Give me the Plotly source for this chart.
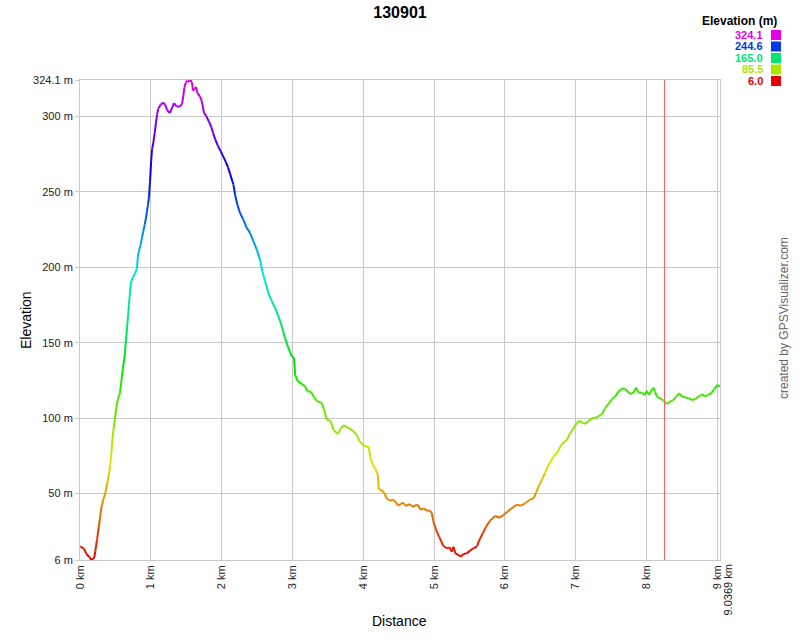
import plotly.graph_objects as go
import colorsys

# ---------------- data ----------------
distance_km = [
    0.00, 0.056, 0.09, 0.137, 0.16, 0.20, 0.216, 0.24, 0.264, 0.282, 0.301, 0.325, 0.358, 0.386, 0.41,
    0.428, 0.443, 0.457, 0.476, 0.494, 0.513, 0.537, 0.565, 0.584, 0.603, 0.621, 0.636, 0.65, 0.664,
    0.678, 0.692, 0.706, 0.72, 0.749, 0.781, 0.805, 0.815, 0.833, 0.857, 0.876, 0.894, 0.914, 0.932,
    0.946, 0.96, 0.975, 0.989, 1.003, 1.017, 1.035, 1.055, 1.073, 1.088, 1.106, 1.14, 1.177, 1.205,
    1.233, 1.271, 1.299, 1.328, 1.365, 1.408, 1.441, 1.459, 1.473, 1.493, 1.516, 1.54, 1.563, 1.582,
    1.596, 1.62, 1.638, 1.657, 1.69, 1.713, 1.733, 1.751, 1.784, 1.818, 1.855, 1.879, 1.911, 1.949,
    1.987, 2.02, 2.058, 2.09, 2.123, 2.151,
    2.166, 2.189, 2.222, 2.26, 2.307, 2.354, 2.401, 2.448, 2.496, 2.542, 2.575, 2.613, 2.66, 2.708,
    2.754, 2.801, 2.849, 2.895, 2.942, 2.99, 3.023, 3.037, 3.075, 3.131, 3.178, 3.211, 3.263, 3.305,
    3.352, 3.414, 3.446, 3.484, 3.54, 3.578, 3.64, 3.686, 3.729, 3.79, 3.852, 3.908, 3.946, 4.002,
    4.077, 4.096, 4.134, 4.176, 4.205, 4.219, 4.251, 4.298, 4.332,
    4.379, 4.425, 4.496, 4.558, 4.605, 4.651, 4.699, 4.764, 4.812, 4.849, 4.897, 4.944, 4.967, 4.99,
    5.028, 5.075, 5.131, 5.179, 5.216, 5.25, 5.273, 5.301, 5.343, 5.377, 5.414, 5.462, 5.508, 5.555,
    5.603, 5.64, 5.688, 5.734, 5.791, 5.862, 5.923, 5.979, 6.035, 6.097, 6.168, 6.225, 6.285, 6.346,
    6.403, 6.441, 6.473, 6.521, 6.568, 6.615,
    6.685, 6.742, 6.78, 6.818, 6.874, 6.921, 6.968, 7.016, 7.053, 7.095, 7.133, 7.18, 7.228, 7.298,
    7.369, 7.415, 7.462, 7.51, 7.556, 7.603, 7.641, 7.684, 7.722, 7.768, 7.815, 7.853, 7.886, 7.934,
    7.971, 8.004, 8.032, 8.065, 8.098, 8.121, 8.145, 8.192, 8.239, 8.287, 8.333, 8.38, 8.418, 8.465,
    8.499, 8.545, 8.592, 8.64, 8.686, 8.733, 8.795, 8.814, 8.875, 8.922, 8.955, 9.002, 9.0369,
]
elevation_m = [
    15.1, 13.5, 10.0, 7.8, 6.0, 7.3, 11.7, 19.5, 27.2, 33.8, 40.5, 45.3, 50.4, 57.0, 63.7,
    69.2, 76.9, 85.7, 93.5, 100.1, 106.8, 112.9, 116.7, 124.5, 132.2, 137.8, 144.4, 152.0, 159.8,
    167.5, 175.2, 184.1, 190.3, 193.4, 196.3, 199.6, 206.2, 211.0, 215.0, 219.9, 223.9, 228.3, 232.7,
    237.2, 241.5, 247.1, 257.0, 269.2, 278.0, 282.4, 289.1, 295.7, 301.2, 305.2, 307.8, 309.2, 307.4,
    303.9, 302.3, 305.6, 308.7, 306.5, 306.5, 308.3, 313.4, 318.9, 322.2, 323.7, 322.9, 324.1, 322.2,
    317.1, 318.4, 319.4, 315.6, 313.4, 311.1, 306.8, 302.3, 300.1, 296.8, 292.8, 289.1, 284.6, 280.2,
    276.9, 273.6, 269.8, 266.3, 261.4, 257.0,
    254.8, 248.2, 241.5, 236.0, 231.6, 226.1, 222.8, 217.3, 211.7, 205.1, 197.4, 190.8, 183.0, 177.5,
    173.1, 167.6, 160.9, 153.2, 146.5, 141.0, 139.9, 128.8, 124.5, 122.7, 121.1, 117.8, 117.4, 113.9,
    111.2, 110.1, 105.6, 99.0, 98.0, 92.4, 89.5, 93.5, 95.3, 93.5, 91.7, 89.1, 84.7, 82.0,
    80.7, 74.7, 69.2, 65.9, 62.5, 52.6, 52.6, 50.4, 46.6,
    45.3, 46.0, 42.0, 44.0, 41.8, 43.1, 41.3, 42.7, 39.1, 40.3, 38.7, 38.7, 37.0, 31.4,
    25.9, 21.0, 15.3, 13.8, 14.4, 11.5, 14.8, 10.4, 9.3, 8.2, 10.0, 10.4, 12.2, 13.8,
    14.8, 19.3, 23.7, 28.1, 32.1, 35.2, 34.0, 35.8, 38.0, 40.3, 42.7, 42.0, 43.6, 45.8,
    46.9, 50.6, 54.6, 59.0, 63.9, 69.0,
    74.5, 77.1, 81.1, 83.4, 85.5, 90.0, 93.3, 97.0, 98.2, 97.0, 96.2, 98.1, 99.7, 100.6,
    102.6, 106.6, 109.4, 112.5, 114.3, 117.6, 119.2, 119.8, 118.2, 116.0, 116.9, 120.2, 116.9, 116.9,
    115.4, 118.2, 115.4, 118.0, 120.2, 117.6, 114.3, 113.2, 111.6, 109.4, 111.0, 112.1, 114.3, 116.5,
    114.3, 113.9, 113.2, 112.1, 112.5, 114.3, 116.0, 114.3, 115.4, 116.9, 119.2, 122.0, 120.9,
]

x_tick_vals = [0, 1, 2, 3, 4, 5, 6, 7, 8, 9]
x_tick_text = ["0 km", "1 km", "2 km", "3 km", "4 km", "5 km", "6 km", "7 km", "8 km", "9 km"]
total_km = 9.0369
total_label = "9.0369 km"
y_tick_vals = [6, 50, 100, 150, 200, 250, 300, 324.1]
y_tick_text = ["6 m", "50 m", "100 m", "150 m", "200 m", "250 m", "300 m", "324.1 m"]
legend_values = [324.1, 244.6, 165.0, 85.5, 6.0]
legend_labels = ["324.1", "244.6", "165.0", "85.5", "6.0"]
marker_km = 8.253

E_MIN, E_MAX = 6.0, 324.1


def elev_color(e):
    t = min(max((e - E_MIN) / (E_MAX - E_MIN), 0.0), 1.0)
    h = (300.0 * t) / 360.0
    r, g, b = colorsys.hsv_to_rgb(h, 1.0, 0.9)
    return "rgb(%d,%d,%d)" % (round(r * 255), round(g * 255), round(b * 255))


fig = go.Figure()

# group segments into colour bins
bins = {}
for i in range(len(distance_km) - 1):
    em = (elevation_m[i] + elevation_m[i + 1]) / 2.0
    t = (em - E_MIN) / (E_MAX - E_MIN)
    k = int(round(t * 100))
    bins.setdefault(k, ([], []))
    xs, ys = bins[k]
    xs += [distance_km[i], distance_km[i + 1], None]
    ys += [elevation_m[i], elevation_m[i + 1], None]

for k in sorted(bins):
    xs, ys = bins[k]
    e_val = E_MIN + k / 100.0 * (E_MAX - E_MIN)
    fig.add_trace(go.Scatter(x=xs, y=ys, mode="lines",
                             line=dict(color=elev_color(e_val), width=2),
                             hoverinfo="skip", showlegend=False))

FONT = "Liberation Sans, Arial, sans-serif"
GRID = "#c8c8c8"

# plot area on screen: x 80..720, y 80..560


def px_x(px):
    return (px - 80) / 640.0


def px_y(py):
    return (560 - py) / 480.0


shapes = [dict(type="line", xref="x", yref="paper", x0=marker_km, x1=marker_km, y0=0, y1=1,
               line=dict(color="rgb(255,90,90)", width=1))]
annotations = []

# axis titles
annotations.append(dict(text="Elevation", x=px_x(16), y=px_y(320), xref="paper", yref="paper",
                        showarrow=False, textangle=-90, font=dict(size=14, color="#000", family=FONT)))
annotations.append(dict(text="Distance", x=px_x(399), y=px_y(631), xref="paper", yref="paper",
                        showarrow=False, font=dict(size=14, color="#000", family=FONT)))
# total distance label
annotations.append(dict(text=total_label, x=px_x(727), y=px_y(563), xref="paper", yref="paper",
                        xanchor="center", yanchor="top", showarrow=False, textangle=-90,
                        font=dict(size=11, color="#222", family=FONT)))
# credit
annotations.append(dict(text="created by GPSVisualizer.com", x=px_x(793), y=px_y(318), xref="paper",
                        yref="paper", showarrow=False, textangle=-90,
                        font=dict(size=12, color="#666", family=FONT)))
# legend
annotations.append(dict(text="<b>Elevation (m)</b>", x=px_x(779), y=px_y(21), xref="paper", yref="paper",
                        xanchor="right", yanchor="middle", showarrow=False,
                        font=dict(size=12, color="#000", family=FONT)))
for j, (v, lab) in enumerate(zip(legend_values, legend_labels)):
    cy = 35 + j * 11.5
    col = elev_color(v)
    annotations.append(dict(text="<b>%s</b>" % lab, x=px_x(765), y=px_y(cy), xref="paper", yref="paper",
                            xanchor="right", yanchor="middle", showarrow=False,
                            font=dict(size=11, color=col, family=FONT)))
    shapes.append(dict(type="rect", xref="paper", yref="paper", x0=px_x(771), x1=px_x(781),
                       y0=px_y(cy + 5), y1=px_y(cy - 5), fillcolor=col, line=dict(width=0)))

fig.update_layout(
    width=800, height=640,
    margin=dict(l=80, r=80, t=80, b=80),
    paper_bgcolor="white", plot_bgcolor="white",
    font=dict(family=FONT, size=11, color="#222"),
    title=dict(text="<b>130901</b>", x=0.5, xanchor="center", xref="paper",
               y=1 - 12.5 / 640.0, yanchor="middle", yref="container",
               font=dict(size=16, color="#000", family=FONT)),
    xaxis=dict(range=[0, total_km], tickvals=x_tick_vals, ticktext=x_tick_text, tickangle=-90,
               showgrid=True, gridcolor=GRID, gridwidth=1, zeroline=False,
               showline=True, linecolor=GRID, linewidth=1, mirror=True, ticks="",
               tickfont=dict(size=11, color="#222", family=FONT)),
    yaxis=dict(range=[E_MIN, E_MAX], tickvals=y_tick_vals, ticktext=y_tick_text,
               showgrid=True, gridcolor=GRID, gridwidth=1, zeroline=False,
               showline=True, linecolor=GRID, linewidth=1, mirror=True,
               ticks="outside", ticklen=4, tickcolor=GRID,
               tickfont=dict(size=11, color="#222", family=FONT)),
    shapes=shapes, annotations=annotations, showlegend=False,
)

# place the figure flush with the page's top-left corner
fig.write_html("out.html",
               config={"displayModeBar": False, "staticPlot": True},
               post_script="document.body.style.margin='0';document.body.style.overflow='hidden';")
